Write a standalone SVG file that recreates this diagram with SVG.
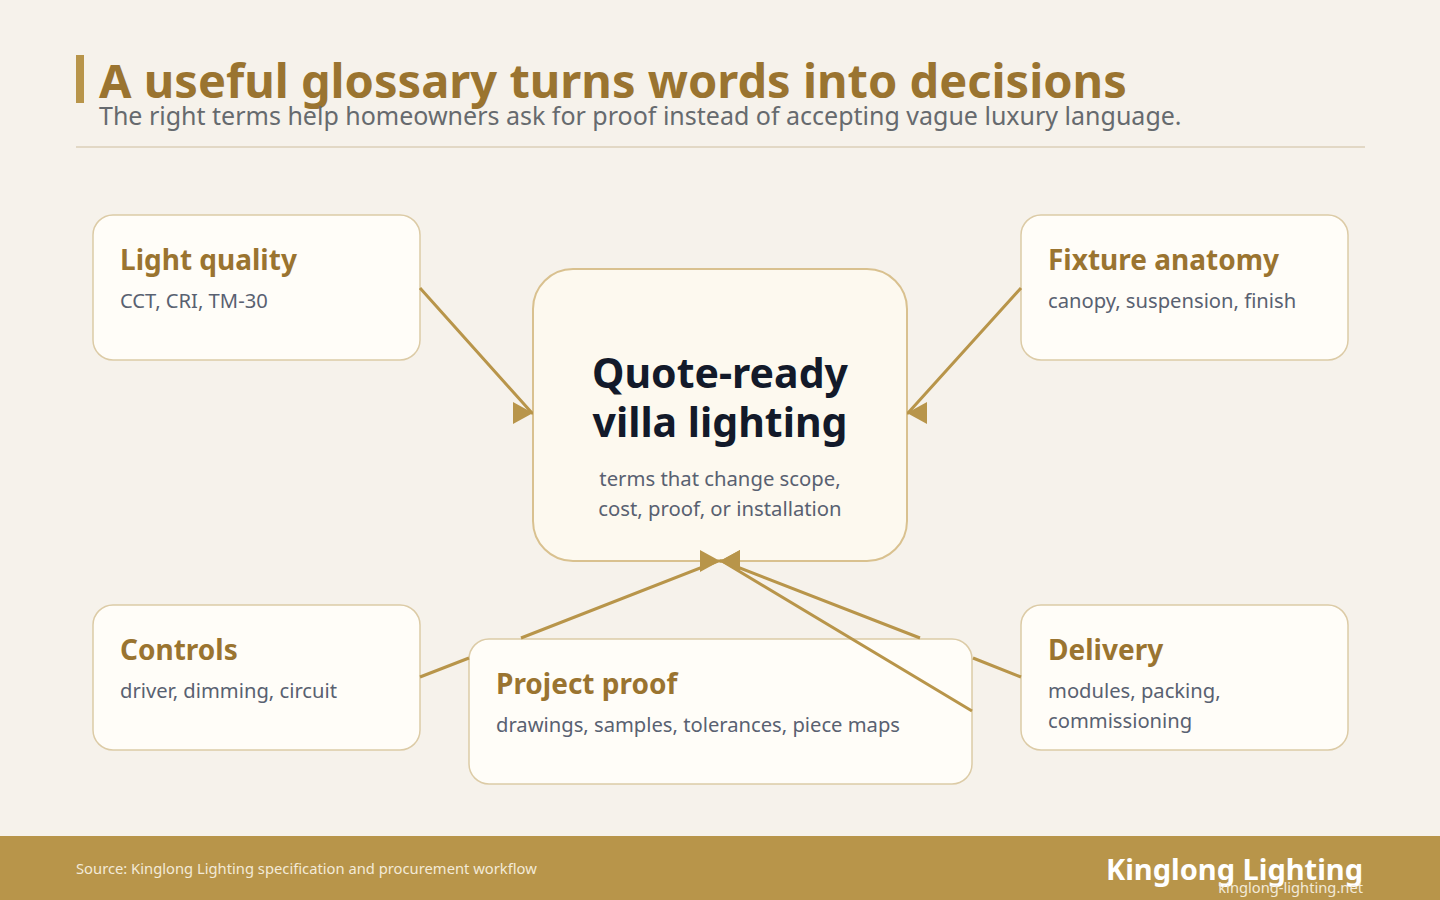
<svg xmlns="http://www.w3.org/2000/svg" width="1440" height="900" viewBox="0 0 1440 900">
<defs>
<style>
.bg{fill:#f6f2eb}
.node rect{fill:#fffdf8;stroke:#dccba6;stroke-width:1.5}
.center rect{fill:#fdf9ef;stroke:#d9c18f;stroke-width:2}
.nt{font-family:"Noto Sans","Open Sans",sans-serif;font-weight:700;font-size:28px;fill:#9a7430}
.ns{font-family:"Noto Sans","Open Sans",sans-serif;font-size:20.2px;fill:#596171}
.ct{font-family:"Noto Sans","Open Sans",sans-serif;font-weight:700;font-size:41px;fill:#131a2a;text-anchor:middle}
.cs{font-family:"Noto Sans","Open Sans",sans-serif;font-size:20.3px;fill:#596171;text-anchor:middle}
.conn path{fill:none;stroke:#b8954a;stroke-width:3;marker-end:url(#arr)}
</style>
<marker id="arr" markerUnits="userSpaceOnUse" markerWidth="20" markerHeight="22" viewBox="0 0 20 22" refX="20" refY="11" orient="auto">
<path d="M0 0 L20 11 L0 22 Z" fill="#b8954a"/>
</marker>
</defs>
<rect class="bg" x="0" y="0" width="1440" height="900"/>
<g id="header">
<rect x="76" y="55" width="8" height="48" fill="#b8954a"/>
<text x="99" y="98" font-family="Noto Sans, Open Sans, sans-serif" font-weight="700" font-size="47" fill="#9a7430">A useful glossary turns words into decisions</text>
<text x="99" y="125" font-family="Noto Sans, Open Sans, sans-serif" font-size="25" fill="#666a6e">The right terms help homeowners ask for proof instead of accepting vague luxury language.</text>
<rect x="76" y="146" width="1289" height="2" fill="#e2d8c5"/>
</g>
<g id="center" class="center">
<rect x="533" y="269" width="374" height="292" rx="40"/>
<text class="ct" x="720" y="388">Quote-ready</text>
<text class="ct" x="720" y="437">villa lighting</text>
<text class="cs" x="720" y="486">terms that change scope,</text>
<text class="cs" x="720" y="516">cost, proof, or installation</text>
</g>
<g id="light-quality" class="node">
<rect x="93" y="215" width="327" height="145" rx="20"/>
<text class="nt" x="120" y="270">Light quality</text>
<text class="ns" x="120" y="308">CCT, CRI, TM-30</text>
</g>
<g id="fixture-anatomy" class="node">
<rect x="1021" y="215" width="327" height="145" rx="20"/>
<text class="nt" x="1048" y="270">Fixture anatomy</text>
<text class="ns" x="1048" y="308">canopy, suspension, finish</text>
</g>
<g id="controls" class="node">
<rect x="93" y="605" width="327" height="145" rx="20"/>
<text class="nt" x="120" y="660">Controls</text>
<text class="ns" x="120" y="698">driver, dimming, circuit</text>
</g>
<g id="delivery" class="node">
<rect x="1021" y="605" width="327" height="145" rx="20"/>
<text class="nt" x="1048" y="660">Delivery</text>
<text class="ns" x="1048" y="698">modules, packing,</text>
<text class="ns" x="1048" y="728">commissioning</text>
</g>
<g id="project-proof" class="node">
<rect x="469" y="639" width="503" height="145" rx="20"/>
<text class="nt" x="496" y="694">Project proof</text>
<text class="ns" x="496" y="732">drawings, samples, tolerances, piece maps</text>
</g>
<g id="connectors" class="conn">
<path d="M420 288 L532 413 H533"/>
<path d="M1021 288 L908 413 H907"/>
<path d="M420 677 L469 658 M521 638 L718 561 H720"/>
<path d="M1021 677 L973 658 M920 638 L722 561 H720"/>
<path d="M972 711 L722 561 H720"/>
</g>
<g id="footer">
<rect x="0" y="836" width="1440" height="64" fill="#b8954a"/>
<text x="76" y="874" font-family="Noto Sans, Open Sans, sans-serif" font-size="14.75" fill="#f3ead8">Source: Kinglong Lighting specification and procurement workflow</text>
<text x="1363" y="880" text-anchor="end" font-family="Noto Sans, Open Sans, sans-serif" font-weight="700" font-size="29" fill="#ffffff">Kinglong Lighting</text>
<text x="1363" y="893" text-anchor="end" font-family="Noto Sans, Open Sans, sans-serif" font-size="14.7" fill="#f3ead8">kinglong-lighting.net</text>
</g>
</svg>
